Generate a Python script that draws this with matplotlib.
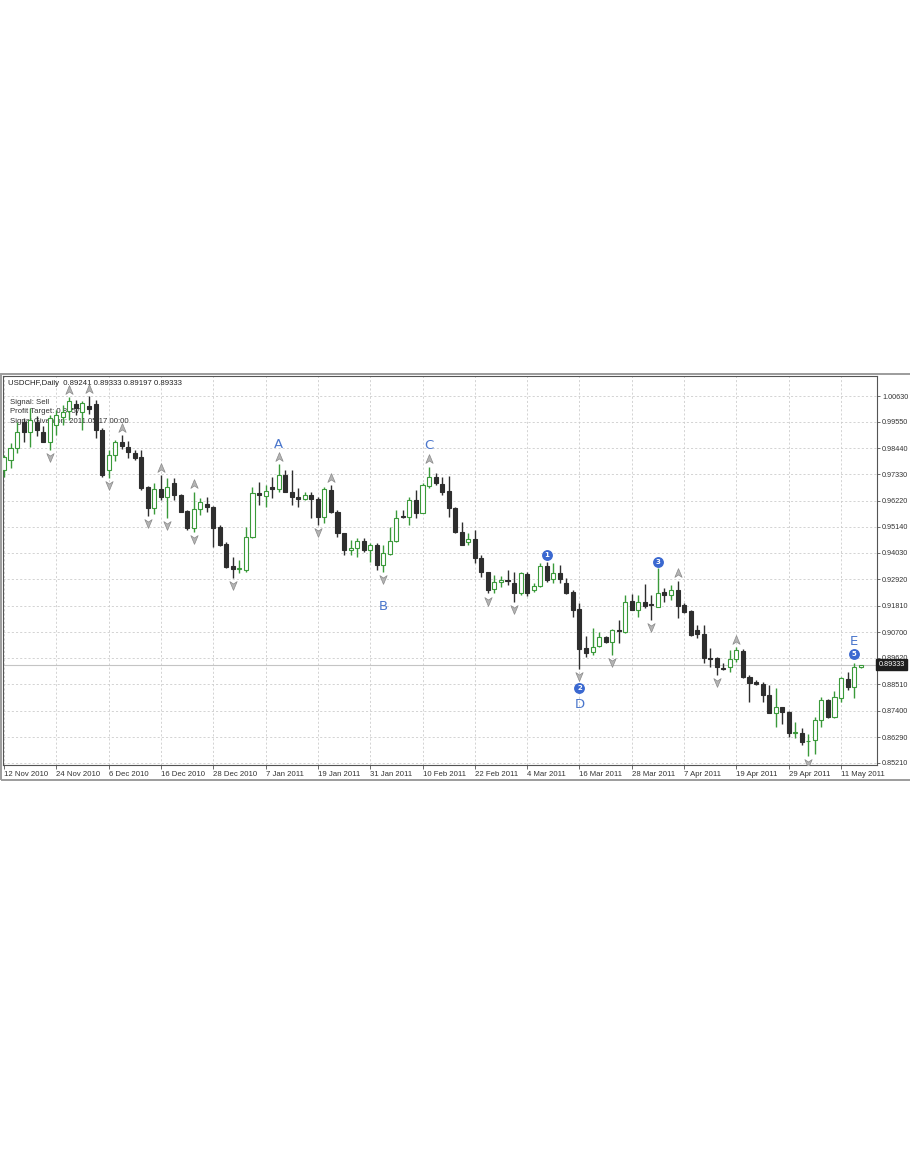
import matplotlib
matplotlib.use("Agg")
import matplotlib.pyplot as plt
from matplotlib.path import Path
from matplotlib.patches import Rectangle

# header of the chart window
symbol = "USDCHF,Daily"
last_quote = [0.89241, 0.89333, 0.89197, 0.89333]
info_lines = ["Signal: Sell", "Profit Target: 0.8757", "Signal Given on: 2011.05.17 00:00"]

# daily candles, 12 Nov 2010 .. 16 May 2011
opens = [0.9752, 0.9794, 0.9844, 0.9953, 0.9912, 0.9954, 0.9912, 0.9871, 0.9941, 0.9976,
         1.0000, 1.0029, 0.9997, 1.0021, 1.0029, 0.9920, 0.9752, 0.9815, 0.9870, 0.9850,
         0.9823, 0.9808, 0.9682, 0.9591, 0.9671, 0.9640, 0.9696, 0.9647, 0.9581, 0.9507,
         0.9587, 0.9609, 0.9598, 0.9511, 0.9441, 0.9348, 0.9334, 0.9331, 0.9471, 0.9654,
         0.9642, 0.9679, 0.9671, 0.9731, 0.9661, 0.9640, 0.9629, 0.9647, 0.9629, 0.9556,
         0.9668, 0.9577, 0.9486, 0.9415, 0.9422, 0.9453, 0.9415, 0.9437, 0.9352, 0.9398,
         0.9455, 0.9560, 0.9556, 0.9626, 0.9572, 0.9685, 0.9724, 0.9693, 0.9665, 0.9591,
         0.9492, 0.9450, 0.9460, 0.9380, 0.9324, 0.9250, 0.9280, 0.9288, 0.9278, 0.9234,
         0.9315, 0.9247, 0.9264, 0.9349, 0.9292, 0.9317, 0.9278, 0.9240, 0.9166, 0.9002,
         0.8986, 0.9010, 0.9048, 0.9030, 0.9077, 0.9072, 0.9202, 0.9163, 0.9198, 0.9188,
         0.9177, 0.9240, 0.9226, 0.9247, 0.9184, 0.9160, 0.9079, 0.9062, 0.8962, 0.8960,
         0.8918, 0.8922, 0.8956, 0.8992, 0.8883, 0.8862, 0.8852, 0.8806, 0.8729, 0.8754,
         0.8735, 0.8645, 0.8647, 0.8612, 0.8617, 0.8701, 0.8785, 0.8713, 0.8792, 0.8872,
         0.8839, 0.89241]
highs = [0.9815, 0.9865, 0.9954, 0.9970, 1.0013, 0.9979, 0.9937, 0.9983, 1.0004, 1.0025,
         1.0059, 1.0046, 1.0042, 1.0063, 1.0046, 0.9929, 0.9836, 0.9878, 0.9899, 0.9874,
         0.9836, 0.9836, 0.9685, 0.9697, 0.9731, 0.9718, 0.9718, 0.9650, 0.9584, 0.9661,
         0.9634, 0.9638, 0.9601, 0.9521, 0.9449, 0.9386, 0.9373, 0.9513, 0.9682, 0.9703,
         0.9689, 0.9724, 0.9777, 0.9752, 0.9752, 0.9675, 0.9661, 0.9661, 0.9640, 0.9680,
         0.9689, 0.9584, 0.9486, 0.9458, 0.9465, 0.9465, 0.9444, 0.9444, 0.9437, 0.9513,
         0.9584, 0.9584, 0.9640, 0.9668, 0.9696, 0.9766, 0.9738, 0.9724, 0.9727, 0.9598,
         0.9535, 0.9486, 0.9500, 0.9394, 0.9324, 0.9310, 0.9306, 0.9331, 0.9324, 0.9324,
         0.9324, 0.9275, 0.9360, 0.9366, 0.9360, 0.9352, 0.9296, 0.9247, 0.9191, 0.9054,
         0.9086, 0.9072, 0.9054, 0.9082, 0.9121, 0.9226, 0.9230, 0.9226, 0.9272, 0.9226,
         0.9338, 0.9254, 0.9268, 0.9286, 0.9191, 0.9163, 0.9100, 0.9100, 0.9002, 0.8967,
         0.8939, 0.8995, 0.9006, 0.8998, 0.8890, 0.8869, 0.8862, 0.8848, 0.8834, 0.8756,
         0.8740, 0.8693, 0.8666, 0.8641, 0.8715, 0.8796, 0.8788, 0.8823, 0.8883, 0.8904,
         0.8939, 0.89333]
lows = [0.9722, 0.9760, 0.9823, 0.9870, 0.9849, 0.9895, 0.9868, 0.9836, 0.9899, 0.9941,
        0.9962, 0.9983, 0.9920, 0.9987, 0.9886, 0.9724, 0.9718, 0.9790, 0.9840, 0.9802,
        0.9794, 0.9668, 0.9560, 0.9567, 0.9626, 0.9550, 0.9626, 0.9575, 0.9500, 0.9492,
        0.9563, 0.9575, 0.9428, 0.9432, 0.9340, 0.9298, 0.9318, 0.9325, 0.9465, 0.9605,
        0.9598, 0.9633, 0.9661, 0.9661, 0.9605, 0.9598, 0.9626, 0.9549, 0.9521, 0.9528,
        0.9570, 0.9472, 0.9394, 0.9394, 0.9387, 0.9408, 0.9366, 0.9331, 0.9324, 0.9394,
        0.9450, 0.9549, 0.9521, 0.9549, 0.9570, 0.9675, 0.9689, 0.9647, 0.9556, 0.9486,
        0.9437, 0.9437, 0.9359, 0.9303, 0.9233, 0.9236, 0.9258, 0.9268, 0.9198, 0.9226,
        0.9220, 0.9240, 0.9258, 0.9282, 0.9275, 0.9275, 0.9230, 0.9135, 0.8917, 0.8967,
        0.8974, 0.9006, 0.9026, 0.8974, 0.9026, 0.9068, 0.9163, 0.9135, 0.9170, 0.9121,
        0.9175, 0.9198, 0.9205, 0.9128, 0.9149, 0.9054, 0.9044, 0.8939, 0.8925, 0.8890,
        0.8911, 0.8904, 0.8946, 0.8876, 0.8775, 0.8848, 0.8777, 0.8729, 0.8672, 0.8684,
        0.8628, 0.8624, 0.8596, 0.8550, 0.8558, 0.8672, 0.8708, 0.8708, 0.8778, 0.8827,
        0.8792, 0.89197]
closes = [0.9807, 0.9844, 0.9912, 0.9912, 0.9962, 0.9920, 0.9871, 0.9970, 0.9983, 0.9997,
          1.0042, 1.0013, 1.0034, 1.0008, 0.9920, 0.9731, 0.9815, 0.9871, 0.9853, 0.9829,
          0.9804, 0.9676, 0.9591, 0.9671, 0.9640, 0.9682, 0.9647, 0.9577, 0.9507, 0.9587,
          0.9619, 0.9598, 0.9507, 0.9437, 0.9345, 0.9334, 0.9341, 0.9471, 0.9654, 0.9647,
          0.9665, 0.9673, 0.9731, 0.9661, 0.9638, 0.9629, 0.9647, 0.9629, 0.9556, 0.9671,
          0.9577, 0.9486, 0.9415, 0.9422, 0.9453, 0.9415, 0.9437, 0.9352, 0.9402, 0.9455,
          0.9549, 0.9556, 0.9626, 0.9570, 0.9689, 0.9724, 0.9696, 0.9661, 0.9591, 0.9492,
          0.9437, 0.9462, 0.9380, 0.9324, 0.9247, 0.9282, 0.9290, 0.9283, 0.9234, 0.9320,
          0.9236, 0.9264, 0.9349, 0.9289, 0.9317, 0.9292, 0.9236, 0.9163, 0.8998, 0.8984,
          0.9006, 0.9048, 0.9030, 0.9079, 0.9073, 0.9198, 0.9163, 0.9198, 0.9180, 0.9184,
          0.9233, 0.9226, 0.9247, 0.9180, 0.9156, 0.9058, 0.9062, 0.8960, 0.8958, 0.8922,
          0.8916, 0.8956, 0.8995, 0.8880, 0.8857, 0.8852, 0.8806, 0.8729, 0.8754, 0.8735,
          0.8647, 0.8649, 0.8610, 0.8614, 0.8701, 0.8785, 0.8713, 0.8796, 0.8876, 0.8839,
          0.8923, 0.89333]

date_labels = ["12 Nov 2010", "24 Nov 2010", "6 Dec 2010", "16 Dec 2010", "28 Dec 2010",
               "7 Jan 2011", "19 Jan 2011", "31 Jan 2011", "10 Feb 2011", "22 Feb 2011",
               "4 Mar 2011", "16 Mar 2011", "28 Mar 2011", "7 Apr 2011", "19 Apr 2011",
               "29 Apr 2011", "11 May 2011"]
date_label_bars = [0, 8, 16, 24, 32, 40, 48, 56, 64, 72, 80, 88, 96, 104, 112, 120, 128]

price_ticks = [1.00630, 0.99550, 0.98440, 0.97330, 0.96220, 0.95140, 0.94030, 0.92920,
               0.91810, 0.90700, 0.89620, 0.88510, 0.87400, 0.86290, 0.85210]

# fractal arrows
fractal_up_bars = [10, 13, 18, 24, 29, 42, 50, 65, 103, 112]
fractal_down_bars = [7, 16, 22, 25, 29, 35, 48, 58, 74, 78, 88, 93, 99, 109, 123]

# wave marks
wave_letters = ["A", "B", "C", "D", "E"]
wave_letter_bars = [42, 58, 65, 88, 130]
wave_letter_prices = [0.9861, 0.9176, 0.9853, 0.8764, 0.9030]
wave_numbers = ["1", "2", "3", "5"]
wave_number_bars = [83, 88, 100, 130]
wave_number_prices = [0.9394, 0.8835, 0.9366, 0.8977]

W, H = 910, 1155
fig = plt.figure(figsize=(W / 100, H / 100), dpi=100)
fig.patch.set_facecolor("white")

# plot area in pixels: x 3..877, y 376..765
ax = fig.add_axes([3 / W, 1 - 765 / H, 874 / W, 389 / H])
ax.set_xlim(-0.15, 133.5)
ax.set_ylim(0.85114, 1.01471)

green = "#3a9a3a"
dark = "#2e2e2e"
n = len(opens)
for i in range(n):
    o, h, l, c = opens[i], highs[i], lows[i], closes[i]
    up = c >= o
    col = green if up else dark
    ax.vlines(i, l, h, color=col, lw=1.0, zorder=3)
    ax.bar(i, max(abs(c - o), 0.00005), bottom=min(o, c), width=0.62,
           facecolor="white" if up else dark, edgecolor=col, lw=0.8, zorder=4)

# fractal arrow markers
up_arrow = Path([(0, 1), (0.75, -0.8), (0, -0.3), (-0.75, -0.8), (0, 1)],
                [Path.MOVETO, Path.LINETO, Path.LINETO, Path.LINETO, Path.CLOSEPOLY])
down_arrow = Path([(0, -1), (0.75, 0.8), (0, 0.3), (-0.75, 0.8), (0, -1)],
                  [Path.MOVETO, Path.LINETO, Path.LINETO, Path.LINETO, Path.CLOSEPOLY])
ax.plot(fractal_up_bars, [highs[i] + 0.0031 for i in fractal_up_bars], ls="none",
        marker=up_arrow, ms=7, mfc="#b4b4b4", mec="#8a8a8a", mew=0.5, zorder=5)
ax.plot(fractal_down_bars, [lows[i] - 0.0031 for i in fractal_down_bars], ls="none",
        marker=down_arrow, ms=7, mfc="#b4b4b4", mec="#8a8a8a", mew=0.5, zorder=5)

wave_blue = "#4a76cc"
for s, b, p in zip(wave_letters, wave_letter_bars, wave_letter_prices):
    ax.text(b, p, s, color=wave_blue, fontsize=9.5, ha="center", va="center",
            family="DejaVu Sans", zorder=6)
for s, b, p in zip(wave_numbers, wave_number_bars, wave_number_prices):
    ax.plot(b, p, "o", ms=6.8, color="#3a68d0", zorder=6)
    ax.text(b, p, s, color="white", fontsize=5, fontweight="bold", ha="center",
            va="center", zorder=7)

# bid line and price label
ax.axhline(closes[-1], color="#c4c4c4", lw=0.8, zorder=2)
ax.text(1.0015, closes[-1], "%.5f" % closes[-1], transform=ax.get_yaxis_transform(),
        ha="left", va="center", color="white", fontsize=5.2, family="Liberation Sans",
        bbox=dict(boxstyle="square,pad=0.3", fc="#1e1e1e", ec="#1e1e1e"),
        clip_on=False, zorder=10)

# axes, ticks and grid
ax.set_yticks(price_ticks)
ax.set_yticklabels(["%.5f" % p for p in price_ticks], fontsize=5.2,
                   family="Liberation Sans", color="#333333")
ax.yaxis.tick_right()
ax.set_xticks(date_label_bars)
ax.set_xticklabels(date_labels, fontsize=5.6, family="Liberation Sans",
                   color="#333333", ha="left")
ax.tick_params(axis="y", length=2.5, width=0.6, color="#555555", pad=1.2)
ax.tick_params(axis="x", length=3, width=0.6, color="#555555", pad=1.5)
ax.grid(True, ls=(0, (2.5, 2.5)), color="#cccccc", lw=0.6, zorder=0)
ax.set_axisbelow(True)
for sp in ax.spines.values():
    sp.set_color("#555555")
    sp.set_linewidth(0.8)

# header texts (drawn under the candles)
ax.text(8 / W, 1 - 383 / H, symbol + "  " + " ".join("%.5f" % v for v in last_quote),
        transform=fig.transFigure, fontsize=5.6, family="Liberation Sans",
        color="#222222", va="center", ha="left", zorder=1)
for k, line in enumerate(info_lines):
    ax.text(10 / W, 1 - (402 + 9.7 * k) / H, line, transform=fig.transFigure,
            fontsize=5.6, family="Liberation Sans", color="#333333",
            va="center", ha="left", zorder=1)

# chart window frame
fig.patches.append(Rectangle((0.5 / W, 1 - 780 / H), 912 / W, 406 / H,
                             transform=fig.transFigure, fill=False,
                             edgecolor="#9c9c9c", lw=1.4))

fig.savefig("out.png", dpi=100, facecolor="white")
